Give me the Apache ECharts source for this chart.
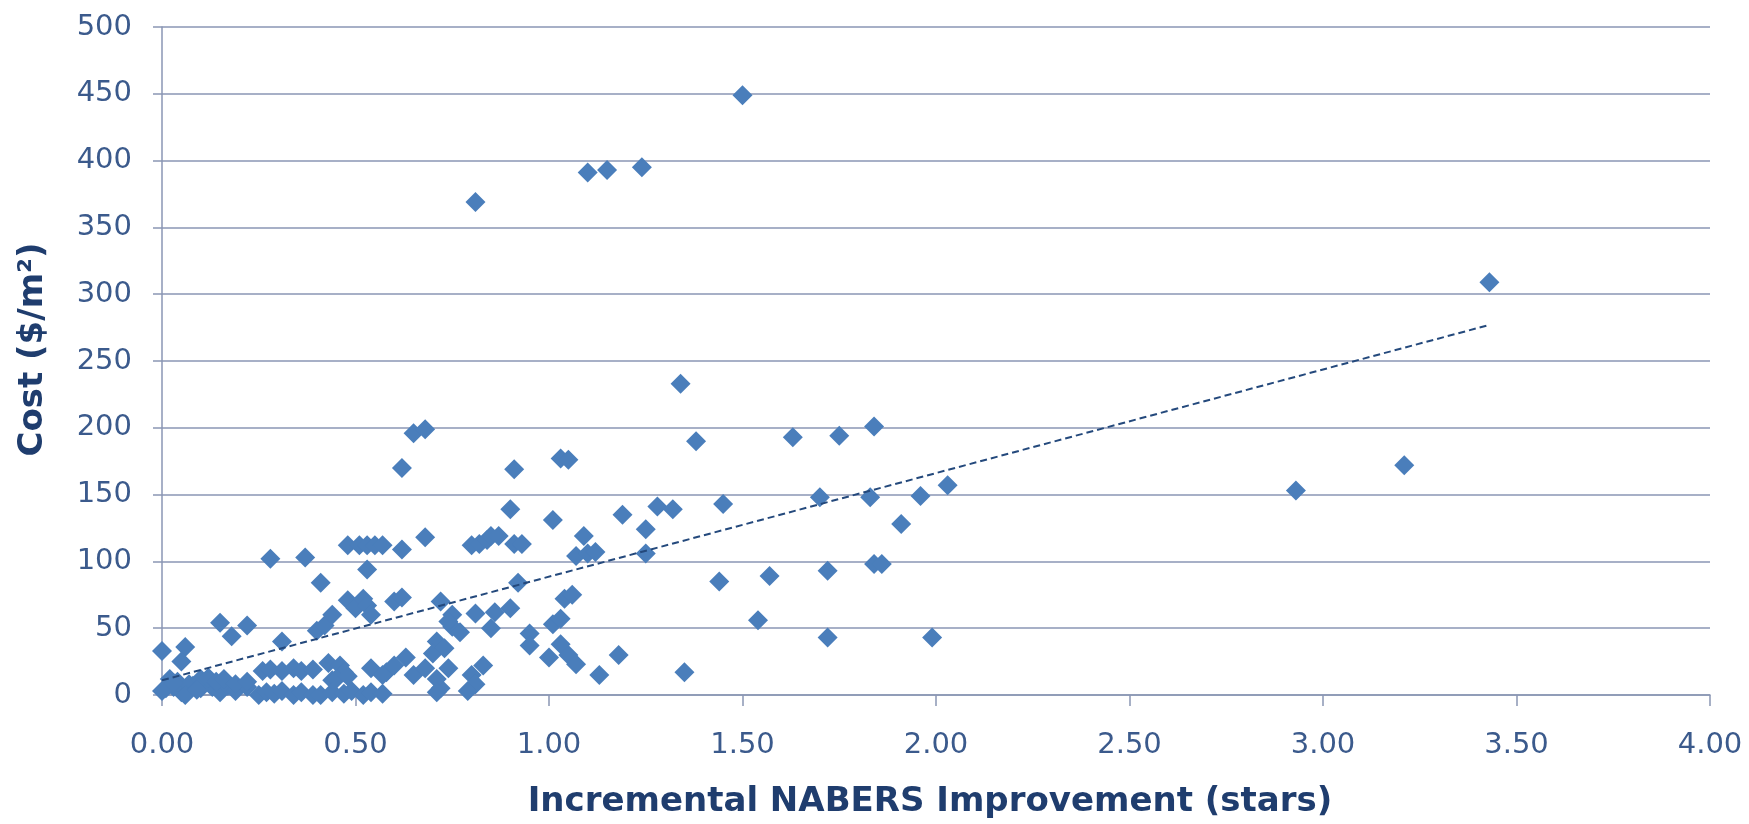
<!DOCTYPE html>
<html>
<head>
<meta charset="utf-8">
<script src="https://cdn.jsdelivr.net/npm/echarts@6/dist/echarts.min.js"></script>
<style>
html,body{margin:0;padding:0;background:#fff;}
#chart{width:1749px;height:824px;}
</style>
</head>
<body>
<div id="chart"></div>
<script>
// Incremental NABERS improvement (stars) for each project
const starsX = [
  0.81,1.10,1.15,1.24,1.50,3.43,2.93,3.21,
  1.34,1.38,1.63,1.75,1.84,0.91,1.03,1.05,
  0.90,0.91,0.93,1.01,1.09,1.07,1.10,1.12,
  1.19,1.25,1.25,1.28,1.32,1.45,1.70,1.83,1.96,2.03,1.91,
  1.84,1.86,1.72,1.57,1.44,1.54,1.72,1.99,1.35,1.13,1.18,
  1.00,1.03,1.05,1.07,0.95,0.95,1.01,1.03,1.04,1.06,0.92,0.90,
  0.62,0.65,0.68,0.68,0.62,0.80,0.82,0.84,0.85,0.87,
  0.28,0.37,0.41,0.53,0.48,0.51,0.53,0.55,0.57,
  0.15,0.18,0.22,0.00,0.06,0.05,0.31,0.40,0.42,0.44,
  0.48,0.50,0.52,0.53,0.54,0.60,0.62,0.72,
  0.75,0.75,0.77,0.74,0.71,0.70,0.73,0.74,0.72,
  0.81,0.86,0.85,0.83,0.80,0.81,0.79,0.71,0.71,
  0.63,0.65,0.68,0.54,0.58,0.60,0.43,0.46,0.47,0.44,
  0.26,0.28,0.31,0.34,0.36,0.39,0.45,0.48,0.57,
  0.01,0.03,0.05,0.08,0.10,0.13,0.15,0.17,0.19,0.22,0.25,0.27,
  0.29,0.31,0.34,0.36,0.39,0.41,0.44,0.47,0.49,0.52,0.54,0.57,
  0.02,0.04,0.07,0.10,0.12,0.14,0.16,0.19,0.22,
  0.00,0.06,0.09,0.03
];
// Cost ($/m2) for each project, same order as starsX
const costY = [
  369,391,393,395,449,309,153,172,
  233,190,193,194,201,169,177,176,
  139,113,113,131,119,104,106,107,
  135,124,106,141,139,143,148,148,149,157,128,
  98,98,93,89,85,56,43,43,17,15,30,
  28,38,30,23,46,37,53,57,72,75,84,65,
  170,196,199,118,109,112,113,116,119,119,
  102,103,84,94,112,112,112,112,112,
  54,44,52,33,36,25,40,48,52,60,
  71,65,72,67,60,70,73,70,
  60,51,47,55,40,31,35,20,5,
  61,62,50,22,15,8,3,12,2,
  28,15,20,20,17,22,24,22,17,11,
  18,19,18,20,18,19,12,14,15,
  5,6,2,7,5,6,2,7,3,6,0,2,
  1,3,0,2,0,0,2,1,3,0,2,1,
  12,10,8,12,13,10,12,8,10,
  3,0,4,9
];
// Linear trendline end points
const trendX = [0.00, 3.43];
const trendY = [11, 277];
// Axis ticks
const xTicks = [0,0.5,1,1.5,2,2.5,3,3.5,4];
const yTicks = [0,50,100,150,200,250,300,350,400,450,500];

const points = starsX.map((x,i)=>[x,costY[i]]);
const trend = trendX.map((x,i)=>[x,trendY[i]]);

const gridColor = '#8a96b4';
const labelColor = '#3b5a8c';
const titleColor = '#1f3d6e';

const chart = echarts.init(document.getElementById('chart'), null, {renderer:'canvas'});
chart.setOption({
  backgroundColor:'#ffffff',
  animation:false,
  grid:{left:162, right:39, top:27, bottom:128, containLabel:false},
  xAxis:{
    type:'value', min:xTicks[0], max:xTicks[xTicks.length-1], interval:0.5,
    name:'Incremental NABERS Improvement (stars)',
    nameLocation:'middle', nameGap:90,
    nameTextStyle:{fontFamily:'DejaVu Sans', fontWeight:'bold', fontSize:34, color:titleColor, padding:[0,12,0,0]},
    axisLine:{show:true, lineStyle:{color:gridColor, width:1.5}},
    axisTick:{show:true, length:11, lineStyle:{color:gridColor, width:1.5}},
    axisLabel:{margin:36, fontFamily:'DejaVu Sans', fontSize:29, color:labelColor, formatter:v=>v.toFixed(2)},
    splitLine:{show:false}
  },
  yAxis:{
    type:'value', min:yTicks[0], max:yTicks[yTicks.length-1], interval:50,
    name:'Cost ($/m²)',
    nameLocation:'middle', nameGap:112, nameRotate:90,
    nameTextStyle:{fontFamily:'DejaVu Sans', fontWeight:'bold', fontSize:34, color:titleColor, padding:[0,0,0,23]},
    axisLine:{show:true, lineStyle:{color:gridColor, width:1.5}},
    axisTick:{show:true, length:9, lineStyle:{color:gridColor, width:1.5}},
    axisLabel:{margin:30, fontFamily:'DejaVu Sans', fontSize:29, color:labelColor},
    splitLine:{show:true, lineStyle:{color:gridColor, width:1.5}}
  },
  series:[
    {
      type:'scatter', data:points, symbol:'diamond', symbolSize:20,
      itemStyle:{color:'#4a7ebb', opacity:1}, z:3
    },
    {
      type:'line', data:trend, symbol:'none', silent:true,
      lineStyle:{color:'#24497c', width:2, type:[7,4]}, z:4
    }
  ]
});
</script>
</body>
</html>
